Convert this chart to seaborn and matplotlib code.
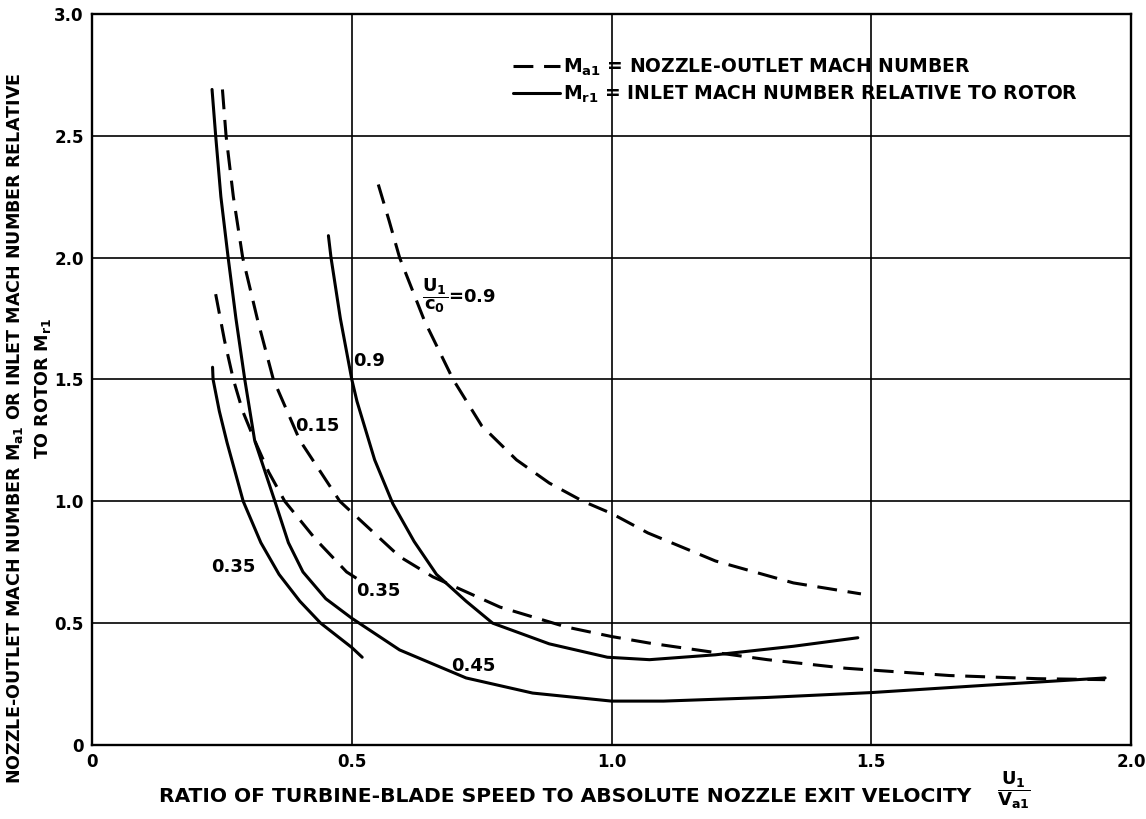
import numpy as np
import pandas as pd
import matplotlib
matplotlib.use("Agg")
import matplotlib.pyplot as plt
import seaborn as sns
from matplotlib.lines import Line2D

# ---------------- data ----------------
# Dashed curves: nozzle-outlet Mach number M_a1
ma1_09_x = [0.551, 0.572, 0.592, 0.64, 0.695, 0.75, 0.817, 0.88, 0.945, 1.0, 1.07, 1.2, 1.35, 1.48]
ma1_09_y = [2.30, 2.15, 2.00, 1.74, 1.50, 1.31, 1.17, 1.075, 1.00, 0.95, 0.87, 0.755, 0.665, 0.62]

ma1_015_x = [0.251, 0.258, 0.272, 0.29, 0.318, 0.349, 0.4, 0.477, 0.592, 0.656, 0.785, 0.913,
             1.0, 1.073, 1.184, 1.3, 1.45, 1.65, 1.82, 1.95]
ma1_015_y = [2.69, 2.50, 2.25, 2.00, 1.75, 1.50, 1.25, 1.00, 0.773, 0.69, 0.566, 0.484,
             0.445, 0.418, 0.384, 0.35, 0.315, 0.285, 0.272, 0.268]

ma1_035_x = [0.238, 0.255, 0.272, 0.29, 0.313, 0.34, 0.371, 0.43, 0.49, 0.512]
ma1_035_y = [1.85, 1.66, 1.50, 1.37, 1.25, 1.12, 1.00, 0.845, 0.71, 0.68]

# Solid curves: inlet Mach number relative to rotor M_r1
mr1_09_x = [0.455, 0.46, 0.478, 0.5, 0.51, 0.544, 0.579, 0.62, 0.663, 0.72, 0.771, 0.88,
            0.992, 1.073, 1.2, 1.35, 1.474]
mr1_09_y = [2.09, 2.00, 1.75, 1.50, 1.41, 1.17, 0.99, 0.835, 0.70, 0.59, 0.50, 0.415,
            0.36, 0.35, 0.37, 0.405, 0.44]

mr1_045_x = [0.231, 0.238, 0.248, 0.262, 0.277, 0.294, 0.313, 0.352, 0.378, 0.406, 0.45, 0.5,
             0.592, 0.72, 0.848, 1.0, 1.1, 1.3, 1.5, 1.72, 1.95]
mr1_045_y = [2.69, 2.50, 2.25, 2.00, 1.75, 1.50, 1.25, 1.00, 0.83, 0.71, 0.60, 0.52,
             0.39, 0.275, 0.213, 0.18, 0.18, 0.195, 0.215, 0.245, 0.275]

mr1_035_x = [0.232, 0.233, 0.245, 0.26, 0.291, 0.325, 0.36, 0.4, 0.44, 0.47, 0.5, 0.52]
mr1_035_y = [1.55, 1.50, 1.37, 1.24, 1.00, 0.83, 0.70, 0.59, 0.50, 0.45, 0.40, 0.36]

x_ticks = [0, 0.5, 1.0, 1.5, 2.0]
x_tick_labels = ["0", "0.5", "1.0", "1.5", "2.0"]
y_ticks = [0, 0.5, 1.0, 1.5, 2.0, 2.5, 3.0]
y_tick_labels = ["0", "0.5", "1.0", "1.5", "2.0", "2.5", "3.0"]

curve_labels = ["0.9", "0.15", "0.35", "0.35", "0.45"]
curve_label_x = [0.502, 0.434, 0.271, 0.552, 0.734]
curve_label_y = [1.574, 1.31, 0.73, 0.63, 0.326]

curves = [
    ("Ma1", "0.9", ma1_09_x, ma1_09_y),
    ("Ma1", "0.15", ma1_015_x, ma1_015_y),
    ("Ma1", "0.35", ma1_035_x, ma1_035_y),
    ("Mr1", "0.9", mr1_09_x, mr1_09_y),
    ("Mr1", "0.45", mr1_045_x, mr1_045_y),
    ("Mr1", "0.35", mr1_035_x, mr1_035_y),
]
rows = []
for kind, ratio, xs, ys in curves:
    for xv, yv in zip(xs, ys):
        rows.append({"kind": kind, "ratio": ratio, "x": xv, "y": yv})
df = pd.DataFrame(rows)

# ---------------- styling ----------------
sns.set_theme(style="white")
plt.rcParams["font.family"] = ["DejaVu Sans"]
plt.rcParams["font.weight"] = "bold"
plt.rcParams["text.color"] = "black"
plt.rcParams["axes.labelcolor"] = "black"
plt.rcParams["mathtext.fontset"] = "custom"
plt.rcParams["mathtext.rm"] = "DejaVu Sans:bold"
plt.rcParams["mathtext.it"] = "DejaVu Sans:bold"
plt.rcParams["mathtext.bf"] = "DejaVu Sans:bold"
plt.rcParams["mathtext.default"] = "rm"

fig, ax = plt.subplots(figsize=(11.46, 8.19), dpi=100)
fig.subplots_adjust(left=0.0803, right=0.987, bottom=0.0904, top=0.983)

for (kind, ratio), g in df.groupby(["kind", "ratio"], sort=False):
    sns.lineplot(data=g, x="x", y="y", ax=ax, color="black", lw=2.2,
                 sort=False, estimator=None, legend=False)
    if kind == "Ma1":
        ax.lines[-1].set_dashes((6.5, 3.5))

ax.set_xlim(0, 2.0)
ax.set_ylim(0, 3.0)
ax.set_xticks(x_ticks)
ax.set_xticklabels(x_tick_labels, fontweight="bold")
ax.set_yticks(y_ticks)
ax.set_yticklabels(y_tick_labels, fontweight="bold")
ax.tick_params(axis="both", length=0, pad=6, labelsize=12, colors="black")
ax.grid(True, color="black", lw=1.2)
for sp in ax.spines.values():
    sp.set_color("black")
    sp.set_linewidth(1.7)

ax.set_xlabel("RATIO OF TURBINE-BLADE SPEED TO ABSOLUTE NOZZLE EXIT VELOCITY",
              fontsize=14.6, fontweight="bold", color="black")
ax.xaxis.label.set_va("center")
ax.xaxis.set_label_coords(0.455, -0.071)
ax.text(0.887, -0.062, r"$\dfrac{U_1}{V_{a1}}$", transform=ax.transAxes,
        fontsize=13, ha="center", va="center", color="black")

ax.set_ylabel("NOZZLE-OUTLET MACH NUMBER $M_{a1}$ OR INLET MACH NUMBER RELATIVE",
              fontsize=12.6, fontweight="bold", color="black")
ax.yaxis.label.set_va("center")
ax.yaxis.set_label_coords(-0.0741, 0.433)
ax.text(-0.0475, 0.488, "TO ROTOR $M_{r1}$", transform=ax.transAxes, rotation=90,
        rotation_mode="anchor", ha="center", va="center", fontsize=12.6,
        fontweight="bold", color="black")

for s, xv, yv in zip(curve_labels, curve_label_x, curve_label_y):
    ha = "left" if s == "0.9" else "center"
    ax.text(xv, yv, s, fontsize=13, fontweight="bold", ha=ha, va="center", color="black")

ax.text(0.635, 1.845, r"$\dfrac{U_1}{c_0}$=0.9", fontsize=13, ha="left",
        va="center", color="black")

handles = [Line2D([], [], color="black", lw=2.2, dashes=(6.5, 3.5)),
           Line2D([], [], color="black", lw=2.2)]
labels = [r"$M_{a1}$ = NOZZLE-OUTLET MACH NUMBER",
          r"$M_{r1}$ = INLET MACH NUMBER RELATIVE TO ROTOR"]
leg = ax.legend(handles, labels, loc="upper left", bbox_to_anchor=(0.405, 0.942),
                frameon=False, handlelength=2.5, handletextpad=0.15,
                labelspacing=0.3, prop={"size": 13.5, "weight": "bold"},
                borderaxespad=0, borderpad=0)
for t in leg.get_texts():
    t.set_color("black")

fig.savefig("out.png", dpi=100, facecolor="white")
